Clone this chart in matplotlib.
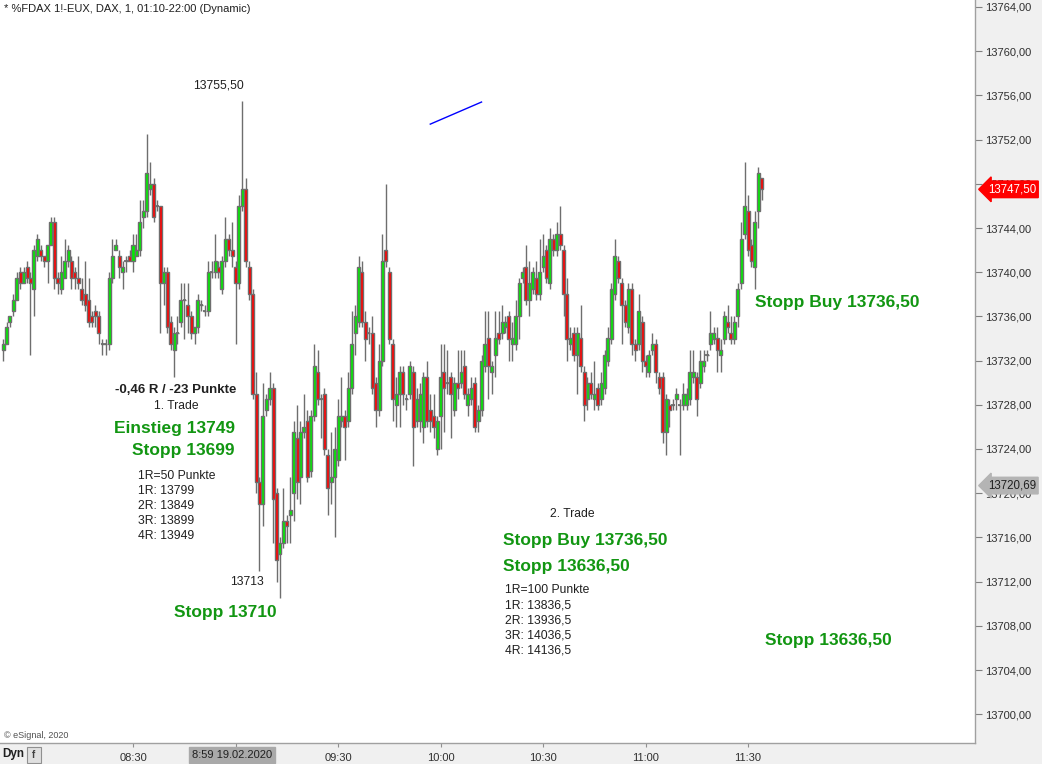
import matplotlib
matplotlib.use('Agg')
import matplotlib.pyplot as plt
import numpy as np
import pandas as pd
from matplotlib.patches import Rectangle

plt.rcParams['font.family'] = ['Liberation Sans', 'DejaVu Sans']

# ---------------- data (1-minute FDAX candles, 19.02.2020) ----------------
opens = [13733.0,13733.5,13735.5,13736.5,13737.5,13740.0,13739.0,13740.5,13739.5,13738.5,
         13741.5,13742.0,13741.5,13741.0,13742.5,13744.5,13739.5,13738.5,13739.5,13741.0,
         13741.0,13740.0,13739.5,13738.5,13738.0,13737.5,13736.0,13736.5,13736.0,13733.5,13733.5,
         13733.5,13739.5,13742.0,13741.5,13740.0,13741.0,13741.5,13741.0,13741.5,13742.0,
         13745.0,13745.5,13747.5,13748.0,13746.0,13746.0,13739.0,13740.0,13735.5,13733.0,
         13734.5,13735.5,13737.5,13737.0,13736.0,13734.5,13735.0,13737.0,13736.5,13736.5,13740.0,13740.0,13740.5,
         13738.5,13741.0,13743.0,13742.0,13740.5,13739.0,13746.0,13747.5,13740.5,13738.0,
         13729.0,13721.0,13719.0,13727.5,13728.5,13729.5,13720.0,13714.5,13715.5,13717.5,
         13718.0,13720.0,13725.0,13721.5,13725.5,13726.5,13722.0,13727.0,13731.0,13728.5,
         13729.0,13723.5,13721.0,13721.5,13723.0,13726.5,13727.0,13726.5,13729.5,13734.5,
         13735.5,13740.0,13735.5,13734.5,13734.5,13730.0,13727.5,13732.0,13742.0,13740.0,
         13733.5,13728.0,13729.0,13731.0,13728.5,13729.0,13731.0,13726.5,13726.5,13726.0,
         13730.5,13727.5,13727.0,13724.0,13727.0,13731.0,13730.0,13730.5,13727.5,13730.0,
         13730.0,13731.5,13728.0,13728.5,13730.0,13726.5,13727.5,13731.5,13734.0,13731.0,
         13732.5,13734.5,13734.5,13735.0,13736.0,13733.5,13733.5,13736.0,13739.5,13740.5,
         13737.5,13738.5,13739.5,13738.0,13740.5,13742.0,13739.0,13743.0,13742.0,13743.5,
         13742.0,13738.0,13733.5,13734.5,13732.5,13734.0,13731.0,13728.5,13730.0,13728.5,
         13729.5,13728.5,13729.5,13732.0,13734.0,13738.0,13741.0,13739.0,13737.0,13735.0,
         13738.5,13733.5,13733.5,13735.5,13732.0,13731.0,13733.0,13733.5,13730.5,13730.5,
         13725.5,13728.0,13728.0,13728.5,13728.0,13728.0,13728.0,13728.5,13730.5,13730.5,
         13730.0,13731.5,13732.5,13733.5,13734.0,13734.0,13732.5,13734.0,13735.5,13734.5,
         13734.0,13736.0,13739.0,13743.5,13745.5,13742.5,13740.5,13745.5,13748.5]
highs = [13734.0,13735.5,13736.0,13738.0,13740.0,13740.5,13740.5,13741.0,13740.0,13742.5,
         13743.5,13742.5,13741.5,13742.5,13745.0,13745.0,13740.0,13741.5,13743.0,13742.5,
         13741.5,13740.5,13741.5,13739.5,13741.0,13739.5,13736.5,13737.0,13736.5,13734.0,13734.0,
         13740.0,13743.0,13743.0,13742.0,13741.0,13741.5,13742.0,13743.5,13743.5,13746.5,
         13746.5,13752.5,13750.0,13748.5,13746.5,13746.0,13740.5,13740.5,13736.0,13735.0,
         13736.0,13739.0,13739.0,13739.0,13736.5,13735.0,13738.0,13737.5,13737.0,13741.0,13741.0,13743.5,13741.0,
         13741.5,13745.0,13743.5,13744.5,13741.0,13747.0,13755.5,13748.5,13741.0,13738.5,
         13731.0,13721.5,13730.0,13729.0,13731.0,13730.0,13720.5,13716.0,13720.5,13718.0,
         13721.5,13726.5,13728.0,13726.5,13729.0,13727.5,13727.5,13733.5,13733.0,13729.0,
         13729.5,13724.0,13725.5,13726.0,13728.5,13730.5,13727.5,13731.0,13736.5,13737.0,
         13741.5,13741.0,13736.5,13735.0,13736.0,13730.5,13733.5,13743.5,13748.0,13740.5,
         13734.0,13730.5,13731.5,13731.5,13729.0,13732.0,13731.5,13729.5,13730.0,13731.0,
         13732.0,13729.0,13729.0,13727.0,13733.5,13733.5,13733.0,13731.0,13730.5,13733.0,
         13733.0,13733.0,13729.5,13730.5,13730.5,13728.0,13732.5,13736.5,13736.5,13732.0,
         13736.5,13736.5,13737.0,13736.0,13736.5,13735.5,13737.5,13739.5,13740.5,13742.5,
         13741.0,13740.5,13741.0,13743.0,13743.5,13742.5,13744.0,13743.5,13744.5,13746.0,
         13742.5,13739.5,13735.0,13735.0,13735.0,13737.0,13731.5,13730.5,13731.0,13732.0,
         13730.0,13731.0,13733.0,13735.0,13739.0,13743.0,13741.5,13739.5,13737.5,13739.0,
         13739.0,13734.0,13738.0,13736.0,13732.5,13733.0,13734.5,13734.0,13731.0,13731.0,
         13729.0,13728.5,13728.5,13729.5,13728.5,13730.0,13729.5,13733.0,13733.0,13731.0,
         13733.0,13733.0,13733.0,13736.5,13735.0,13735.0,13734.0,13736.5,13737.0,13736.0,
         13736.0,13739.0,13744.5,13750.0,13747.0,13743.0,13745.5,13749.5,13748.5]
lows = [13732.0,13733.5,13735.0,13736.0,13737.5,13738.5,13739.0,13739.0,13732.5,13736.0,
        13741.0,13741.0,13740.5,13739.0,13742.5,13738.5,13738.0,13738.0,13739.5,13740.5,
        13738.5,13738.5,13738.5,13737.0,13736.5,13735.0,13735.0,13735.0,13733.5,13732.5,13732.5,
        13733.0,13739.0,13742.0,13739.5,13738.5,13740.0,13741.0,13740.0,13741.5,13741.5,
        13744.0,13745.0,13747.0,13744.5,13745.5,13734.5,13737.0,13734.5,13733.0,13730.5,
        13733.5,13735.0,13734.0,13734.5,13734.0,13733.5,13734.5,13736.5,13736.0,13736.0,13739.5,13739.5,13739.5,
        13738.0,13740.5,13741.5,13740.5,13733.5,13738.5,13745.5,13740.5,13737.5,13728.5,
        13720.0,13713.0,13717.0,13727.0,13728.0,13715.5,13712.0,13710.5,13715.0,13715.5,
        13715.5,13717.5,13719.5,13719.0,13725.0,13721.0,13721.5,13726.5,13728.0,13725.0,
        13723.5,13718.0,13719.0,13716.0,13722.5,13726.0,13723.0,13726.0,13729.0,13732.5,
        13735.0,13735.0,13732.0,13733.5,13729.0,13726.0,13727.0,13731.5,13740.5,13733.5,
        13726.5,13726.0,13726.0,13728.0,13727.5,13728.5,13722.5,13726.0,13725.5,13724.5,
        13726.0,13725.5,13725.0,13723.5,13724.0,13725.5,13729.0,13725.0,13727.0,13728.5,
        13729.5,13728.5,13727.0,13728.0,13725.5,13725.5,13727.0,13731.0,13728.5,13729.0,
        13730.5,13733.5,13734.0,13734.5,13732.0,13732.0,13733.0,13734.0,13739.0,13737.0,
        13736.0,13738.0,13737.5,13737.5,13740.0,13739.0,13738.5,13741.5,13741.5,13742.0,
        13736.0,13732.0,13733.0,13732.0,13729.0,13731.0,13726.5,13727.5,13728.5,13727.5,
        13727.5,13728.0,13729.0,13731.5,13733.5,13737.5,13739.0,13733.5,13735.0,13734.5,
        13732.5,13732.0,13733.0,13731.0,13730.5,13730.5,13732.5,13730.0,13729.0,13724.5,
        13723.5,13726.0,13727.5,13727.5,13723.5,13727.5,13727.5,13728.0,13730.0,13727.0,
        13729.5,13731.0,13732.0,13733.0,13733.5,13731.0,13731.0,13733.5,13734.5,13733.5,
        13733.5,13735.0,13738.5,13743.0,13741.5,13740.5,13738.5,13744.0,13746.5]
closes = [13733.5,13735.0,13736.0,13737.5,13739.5,13739.0,13740.0,13739.5,13739.0,13742.0,
          13743.0,13741.5,13741.0,13742.5,13744.5,13739.5,13739.0,13740.0,13741.0,13742.0,
          13739.5,13739.5,13739.0,13737.5,13737.0,13735.5,13735.5,13736.0,13734.5,13733.5,13733.5,
          13739.5,13741.5,13742.5,13740.5,13740.5,13741.0,13741.0,13742.5,13742.0,13744.5,
          13745.5,13749.0,13748.0,13745.0,13746.0,13739.0,13740.0,13735.0,13733.5,13734.5,
          13734.5,13737.5,13737.5,13736.0,13734.5,13735.0,13737.5,13737.0,13736.5,13740.0,13740.0,13741.0,13740.0,
          13741.0,13743.0,13742.0,13741.5,13739.0,13746.0,13747.5,13741.0,13738.0,13729.0,
          13721.0,13719.0,13727.0,13728.5,13729.5,13719.5,13714.0,13715.5,13717.5,13717.0,
          13718.5,13725.5,13721.0,13725.5,13726.0,13721.5,13727.0,13731.5,13728.5,13728.5,
          13724.0,13720.5,13721.5,13724.0,13727.0,13727.0,13726.0,13729.5,13733.5,13736.0,
          13740.5,13735.5,13734.0,13734.5,13729.5,13727.5,13732.0,13741.0,13741.0,13734.0,
          13728.5,13729.0,13731.0,13729.0,13728.5,13731.5,13726.0,13728.5,13729.0,13730.5,
          13726.5,13726.5,13726.0,13726.5,13730.5,13729.5,13730.0,13729.0,13730.0,13729.5,
          13731.0,13729.0,13729.0,13729.5,13726.0,13727.5,13732.0,13733.5,13731.5,13731.5,
          13734.0,13734.0,13735.5,13735.5,13734.0,13734.0,13736.0,13739.0,13740.0,13737.5,
          13739.0,13740.0,13738.0,13740.0,13741.5,13739.5,13743.0,13742.0,13743.5,13742.5,
          13738.0,13734.0,13734.0,13732.5,13734.5,13731.5,13728.0,13730.0,13729.0,13729.0,
          13728.0,13730.0,13732.5,13734.0,13738.5,13741.5,13739.5,13737.0,13735.5,13738.5,
          13733.5,13733.0,13736.5,13732.0,13731.5,13732.5,13733.5,13731.0,13729.5,13725.5,
          13728.5,13727.5,13728.0,13729.0,13728.0,13729.0,13729.0,13731.0,13731.0,13728.5,
          13732.0,13732.0,13732.5,13734.5,13734.5,13733.0,13733.0,13736.0,13735.0,13734.0,
          13735.5,13738.5,13743.0,13746.0,13742.0,13741.0,13744.5,13749.0,13747.5]

first_bar = '2020-02-19 07:52'
time_ticks = ['08:30', '09:00', '09:30', '10:00', '10:30', '11:00', '11:30']
price_ticks = list(range(13700, 13765, 4))
last_price = 13747.50
ref_price = 13720.69
trend_line_time = ['09:57', '10:12']
trend_line_price = [13753.4, 13755.4]

# ---------------- figure ----------------
W, H = 1042, 764
fig = plt.figure(figsize=(W / 100, H / 100), dpi=100, facecolor='#f0f0f0')
ax = fig.add_axes([0, 21 / H, 975 / W, 743 / H])
ax.set_facecolor('white')

times = pd.date_range(first_bar, periods=len(closes), freq='1min')
ref = pd.Timestamp('2020-02-19 08:30')
x = np.asarray((times - ref) / pd.Timedelta(minutes=1), dtype=float)

o = np.array(opens); h = np.array(highs); l = np.array(lows); c = np.array(closes)
up = c >= o
grey = '#6e6e6e'
ax.vlines(x, l, h, color=grey, linewidth=1.0, zorder=2)
bottoms = np.minimum(o, c)
heights = np.abs(c - o)
ax.bar(x[up], heights[up], bottom=bottoms[up], width=0.88, color='#00ee00',
       edgecolor=grey, linewidth=1.0, zorder=3)
ax.bar(x[~up], heights[~up], bottom=bottoms[~up], width=0.88, color='#ff0000',
       edgecolor=grey, linewidth=1.0, zorder=3)
doji = heights == 0
ax.hlines(c[doji], x[doji] - 0.5, x[doji] + 0.5, color=grey, linewidth=1.3, zorder=3)

tl_x = [(pd.Timestamp('2020-02-19 ' + t) - ref) / pd.Timedelta(minutes=1) for t in trend_line_time]
ax.plot(tl_x, trend_line_price, color='#0000ff', linewidth=1.0, zorder=4)

# axes limits: px -> data
px_per_min = 3.417
ax.set_xlim(-133 / px_per_min, (975 - 133) / px_per_min)
px_per_pt = 11.05
ax.set_ylim(13764 - 736 / px_per_pt, 13764 + 7 / px_per_pt)

# y axis on the right
ax.yaxis.tick_right()
ax.set_yticks(price_ticks)
ax.set_yticklabels([f'{p:.2f}'.replace('.', ',') for p in price_ticks])
ax.tick_params(axis='y', direction='out', length=5, width=0.8, color='#808080',
               labelsize=8, pad=2, labelcolor='#303030')
tick_pos = [(pd.Timestamp('2020-02-19 ' + t) - ref) / pd.Timedelta(minutes=1) for t in time_ticks]
ax.set_xticks(tick_pos)
ax.set_xticklabels([t if t != '09:00' else '' for t in time_ticks])
ax.tick_params(axis='x', direction='out', length=3, width=0.8, color='#909090',
               labelsize=8, pad=4, labelcolor='#303030')
for s in ['top', 'left']:
    ax.spines[s].set_visible(False)
for s in ['right', 'bottom']:
    ax.spines[s].set_color('#a0a0a0')
    ax.spines[s].set_linewidth(1.0)

# price markers on the right axis
ytr = ax.get_yaxis_transform()
ax.text(1.013, last_price, f'{last_price:.2f}'.replace('.', ','), transform=ytr,
        fontsize=8.3, color='white', va='center', ha='left', zorder=10, clip_on=False,
        bbox=dict(boxstyle='larrow,pad=0.2', fc='#ff0000', ec='#ff0000'))
ax.text(1.013, ref_price, f'{ref_price:.2f}'.replace('.', ','), transform=ytr,
        fontsize=8.3, color='#202020', va='center', ha='left', zorder=10, clip_on=False,
        bbox=dict(boxstyle='larrow,pad=0.2', fc='#b4b4b4', ec='#b4b4b4'))

# ---------------- text annotations ----------------
def ftxt(px, py, s, **kw):
    fig.text(px / W, 1 - py / H, s, **kw)

green = '#129612'
ftxt(4, 9, '* %FDAX 1!-EUX, DAX, 1, 01:10-22:00 (Dynamic)', fontsize=8, va='center', color='#202020')
ftxt(218, 86, '13755,50', fontsize=8.7, ha='center', va='center', color='#202020')
ftxt(176, 390, '-0,46 R / -23 Punkte', fontsize=9.5, fontweight='bold', ha='center', va='center', color='#202020')
ftxt(176, 406, '1. Trade', fontsize=8.7, ha='center', va='center', color='#202020')
ftxt(175, 428, 'Einstieg 13749', fontsize=12.5, fontweight='bold', ha='center', va='center', color=green)
ftxt(183, 450, 'Stopp 13699', fontsize=12.5, fontweight='bold', ha='center', va='center', color=green)
for i, s in enumerate(['1R=50 Punkte', '1R: 13799', '2R: 13849', '3R: 13899', '4R: 13949']):
    ftxt(138, 476 + 15 * i, s, fontsize=8.7, ha='left', va='center', color='#202020')
ftxt(247, 582, '13713', fontsize=8.7, ha='center', va='center', color='#202020')
ftxt(225, 612, 'Stopp 13710', fontsize=12.5, fontweight='bold', ha='center', va='center', color=green)
ftxt(572, 514, '2. Trade', fontsize=8.7, ha='center', va='center', color='#202020')
ftxt(503, 541, 'Stopp Buy 13736,50', fontsize=12.5, fontweight='bold', ha='left', va='center', color=green)
ftxt(503, 566, 'Stopp 13636,50', fontsize=12.5, fontweight='bold', ha='left', va='center', color=green)
for i, s in enumerate(['1R=100 Punkte', '1R: 13836,5', '2R: 13936,5', '3R: 14036,5', '4R: 14136,5']):
    ftxt(505, 590 + 15.2 * i, s, fontsize=8.7, ha='left', va='center', color='#202020')
ftxt(755, 302, 'Stopp Buy 13736,50', fontsize=12.5, fontweight='bold', ha='left', va='center', color=green)
ftxt(765, 641, 'Stopp 13636,50', fontsize=12.5, fontweight='bold', ha='left', va='center', color=green)
ftxt(4, 735, '© eSignal, 2020', fontsize=6.5, va='center', color='#505050')

# bottom strip items
ftxt(2, 754, 'Dyn', fontsize=8.5, fontweight='bold', va='center', color='#202020')
fig.patches.append(Rectangle((27 / W, 1 - 763 / H), 14 / W, 16 / H, transform=fig.transFigure,
                             fc='#e0e0e0', ec='#909090', lw=0.8))
ftxt(34, 755, 'f', fontsize=7, ha='center', va='center', color='#404040', fontweight='bold')
ftxt(232, 755, '8:59 19.02.2020', fontsize=8, ha='center', va='center', color='#202020',
     bbox=dict(boxstyle='square,pad=0.25', fc='#a9a9a9', ec='#a9a9a9'))

fig.savefig('out.png', dpi=100, facecolor=fig.get_facecolor())
